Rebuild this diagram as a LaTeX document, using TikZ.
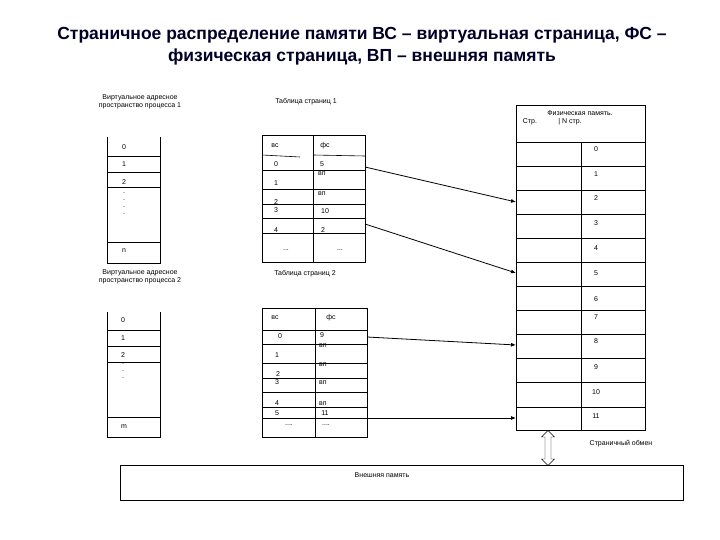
\documentclass[tikz,border=0pt]{standalone}
\usepackage{fontspec}
\setmainfont{Liberation Sans}
\usetikzlibrary{arrows.meta,shapes.arrows}
\begin{document}
\begin{tikzpicture}[x=1pt,y=-1pt,
  sm/.style={font=\fontsize{7}{8}\selectfont,inner sep=0pt},
  ln/.style={line width=0.6pt},
  arr/.style={line width=0.8pt,-{Latex[length=5pt,width=4pt]}}]
\useasboundingbox (0,0) rectangle (720,540);
\node[font=\bfseries\fontsize{17.5}{22}\selectfont,align=center,text=black!85!blue] (title) at (362,46)
 {Страничное распределение памяти ВС -- виртуальная страница, ФС --\\физическая страница, ВП -- внешняя память};
% left box 1
\node[sm,align=center] (vl1) at (140,102) {Виртуальное адресное\\пространство процесса 1};
\draw[ln] (107,137) -- (107,263) -- (160,263) -- (160,137);
\foreach \y in {156,172,187,242} \draw[ln] (107,\y) -- (160,\y);
\node[sm] (a0) at (124,147) {0};
\node[sm] (a1) at (124,164) {1};
\node[sm] (a2) at (124,182) {2};
\foreach \y in {193,200,207,214} \node[sm] at (124,\y) {.};
\node[sm] (an) at (124,251) {n};
% table 1
\node[sm] (t1) at (306,102) {Таблица страниц 1};
\draw[ln] (262,135) rectangle (365,262);
\draw[line width=1pt] (313,135) -- (313,262);
\draw[ln] (262,155) -- (300,157) (313,155) -- (365,156);
\foreach \y in {170,189,204,218,233} \draw[ln] (262,\y) -- (365,\y);
\node[sm] (b0) at (275,146) {вс}; \node[sm] at (325,146) {фс};
\node[sm] at (276,164) {0}; \node[sm] (p5) at (322,164) {5};
\node[sm] at (322,174) {вп}; \node[sm] at (276,183) {1};
\node[sm] at (322,194) {вп}; \node[sm] at (276,202) {2};
\node[sm] at (276,210) {3}; \node[sm] at (325,211) {10};
\node[sm] at (276,230) {4}; \node[sm] at (323,230) {2};
\node[sm] at (286,250) {...}; \node[sm] at (340,250) {...};
\coordinate (s1) at (365,167); \coordinate (s2) at (365,224);
% left box 2
\node[sm,align=center] (vl2) at (140,277) {Виртуальное адресное\\пространство процесса 2};
\draw[ln] (107,312) -- (107,437) -- (160,437) -- (160,312);
\foreach \y in {330,346,362,417} \draw[ln] (107,\y) -- (160,\y);
\node[sm] at (123,320) {0};
\node[sm] at (123,338) {1};
\node[sm] at (123,355) {2};
\foreach \y in {364,371,378} \node[sm] at (123,\y) {.};
\node[sm] at (124,427) {m};
% table 2
\node[sm] (t2) at (305,274) {Таблица страниц 2};
\draw[ln] (262,308) rectangle (367,437);
\draw[line width=1pt] (315,308) -- (315,437);
\foreach \y in {330,344,363,378,392,407,418} \draw[ln] (262,\y) -- (367,\y);
\node[sm] at (275,318) {вс}; \node[sm] at (331,318) {фс};
\node[sm] at (280,336) {0}; \node[sm] at (322,335) {9};
\node[sm] at (323,346) {вп}; \node[sm] at (277,355) {1};
\node[sm] at (323,365) {вп}; \node[sm] at (278,374) {2};
\node[sm] at (277,382) {3}; \node[sm] at (323,383) {вп};
\node[sm] at (277,403) {4}; \node[sm] at (323,404) {вп};
\node[sm] at (277,413) {5}; \node[sm] at (325,413) {11};
\node[sm] at (289,425) {....}; \node[sm] at (326,425) {....};
\coordinate (s3) at (367,337); \coordinate (s4) at (367,418);
% physical memory
\draw[ln] (516,105) rectangle (645,430);
\node[sm,align=center] (ph) at (580,113) {Физическая память.};
\node[sm] at (530,122) {Стр.}; \node[sm] at (570,122) {| N стр.};
\draw[ln] (581,142) -- (581,430);
\foreach \y in {142,166,190,214,238,262,286,310,334,358,382,407} \draw[ln] (516,\y) -- (645,\y);
\foreach \y/\t in {149/0,174/1,198/2,223/3,248/4,273/5,299/6,317/7,341/8,367/9,392/10,416/11}
  \node[sm] at (596,\y) {\t};
\coordinate (d2) at (516,202); \coordinate (d5) at (516,273);
\coordinate (d8) at (516,345); \coordinate (d11) at (516,418);
\draw[arr] (s1) -- (d2);
\draw[arr] (s2) -- (d5);
\draw[arr] (s3) -- (d8);
\draw[arr] (s4) -- (d11);
% exchange
\node[draw,double arrow,shape border rotate=90,minimum height=35pt,minimum width=13pt,double arrow head extend=2pt,inner sep=1.5pt,fill=white] (ex) at (548,448) {};
\node[sm] (exl) at (621,444) {Страничный обмен};
\draw[ln] (120,465) rectangle (683,500);
\node[sm] (ext) at (382,475) {Внешняя память};
\end{tikzpicture}
\end{document}
